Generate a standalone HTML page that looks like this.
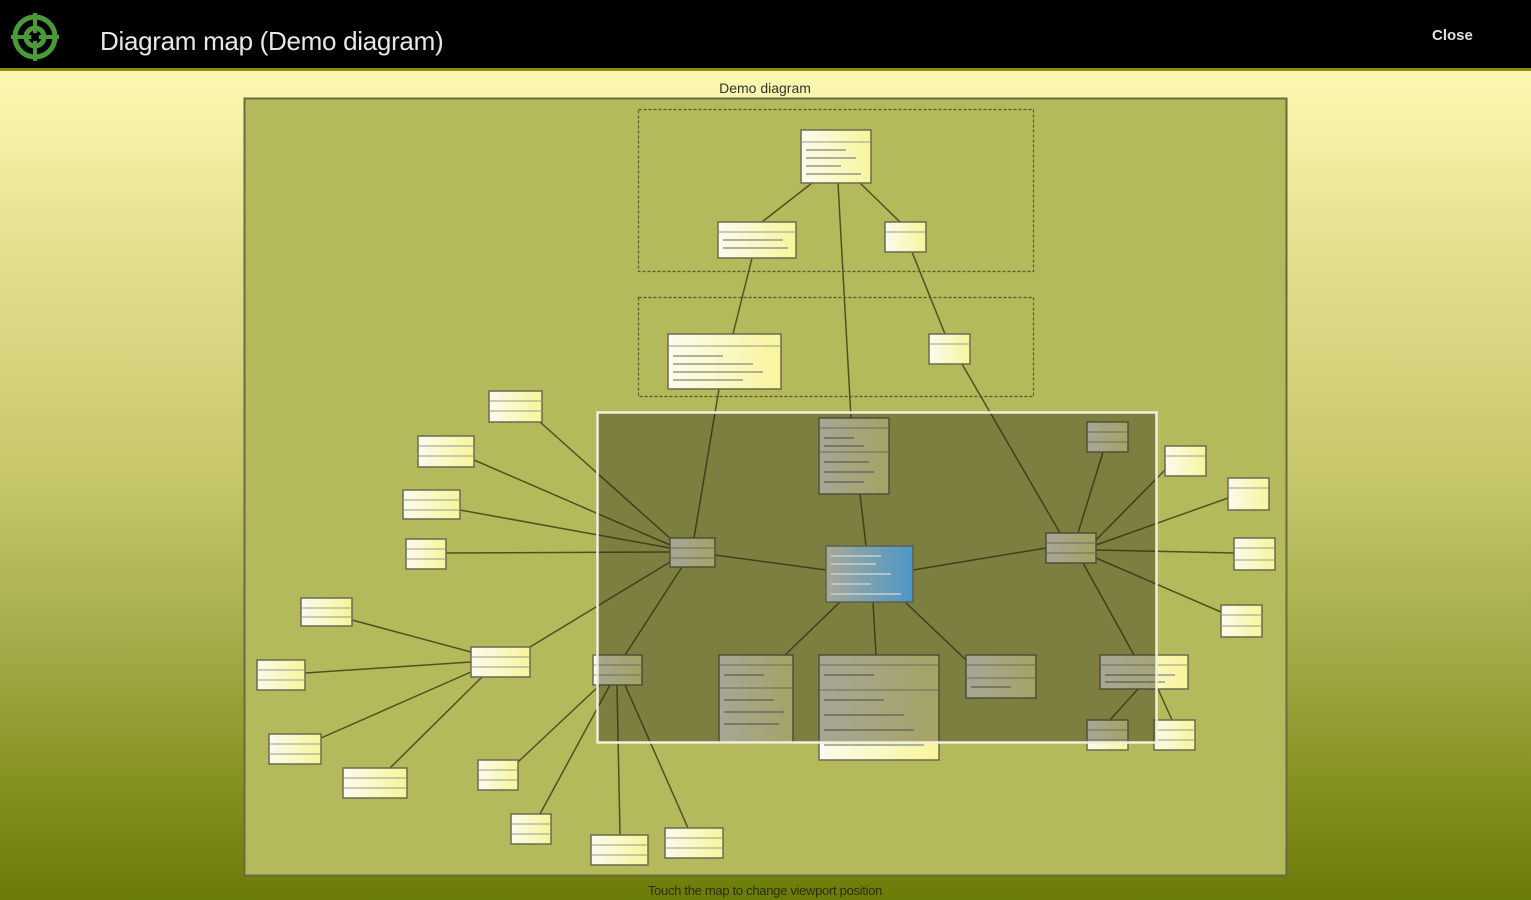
<!DOCTYPE html>
<html><head><meta charset="utf-8"><style>
html,body{margin:0;padding:0;width:1531px;height:900px;overflow:hidden;font-family:"Liberation Sans",sans-serif}
body{background:linear-gradient(#fdf8b0 70px,#e4e08e 250px,#c6c66a 480px,#a3aa48 650px,#869220 780px,#6b7b08 900px)}
.hdr{position:absolute;left:0;top:0;width:1531px;height:68px;background:#000;border-bottom:3px solid #8a9010}
.t{position:absolute;left:100px;top:26px;color:#e8e8e8;font-size:26px;letter-spacing:-0.3px}
.c{position:absolute;left:1432px;top:27px;color:#e0e0e0;font-size:15px;font-weight:bold}
svg{position:absolute;left:0;top:0}
</style></head><body>
<div class="hdr"><div class="t">Diagram map (Demo diagram)</div><div class="c">Close</div></div>
<svg width="56" height="60" style="left:10px;top:10px" viewBox="0 0 56 60">
<circle cx="25" cy="27" r="20" fill="none" stroke="#4a9a3a" stroke-width="5"/>
<circle cx="25" cy="27" r="9" fill="none" stroke="#4a9a3a" stroke-width="5"/>
<path d="M25 3V51M1 27H49" stroke="#4a9a3a" stroke-width="4"/>
<circle cx="25" cy="27" r="4" fill="#000"/>
</svg>
<svg width="1531" height="900" style="top:0">
<defs>
<linearGradient id="ng" x1="0" x2="1"><stop offset="0" stop-color="#fbfbf0"/><stop offset="1" stop-color="#f8f59a"/></linearGradient>
<linearGradient id="bg" x1="0" x2="1"><stop offset="0" stop-color="#a9a898"/><stop offset="1" stop-color="#4a98c8"/></linearGradient>
</defs>
<text x="765" y="93" font-size="14" text-anchor="middle" fill="#333">Demo diagram</text>
<rect x="244.5" y="98.5" width="1042" height="777" fill="#b4b95c" stroke="#6a6a40" stroke-width="2"/>
<g fill="none" stroke="#555a30" stroke-width="1.2" stroke-dasharray="3,2">
<rect x="638.5" y="109.5" width="395" height="162"/>
<rect x="638.5" y="297.5" width="395" height="99"/>
</g>
<g stroke="#4d5220" stroke-width="1.5">
<line x1="812" y1="183" x2="762" y2="222"/><line x1="860" y1="183" x2="900" y2="222"/><line x1="838" y1="183" x2="851" y2="418"/>
<line x1="752" y1="258" x2="733" y2="334"/><line x1="912" y1="252" x2="945" y2="334"/>
<line x1="719" y1="389" x2="694" y2="538"/><line x1="962" y1="364" x2="1060" y2="533"/>
<line x1="540" y1="422" x2="672" y2="540"/><line x1="474" y1="460" x2="670" y2="545"/><line x1="460" y1="510" x2="670" y2="548"/><line x1="446" y1="553" x2="670" y2="552"/>
<line x1="715" y1="555" x2="826" y2="570"/><line x1="670" y1="562" x2="530" y2="647"/><line x1="682" y1="567" x2="625" y2="655"/>
<line x1="352" y1="620" x2="471" y2="652"/><line x1="305" y1="673" x2="471" y2="662"/><line x1="321" y1="738" x2="471" y2="672"/><line x1="390" y1="768" x2="482" y2="677"/>
<line x1="600" y1="685" x2="518" y2="762"/><line x1="610" y1="685" x2="540" y2="814"/><line x1="617" y1="685" x2="620" y2="835"/><line x1="625" y1="685" x2="688" y2="828"/>
<line x1="860" y1="494" x2="866" y2="546"/><line x1="840" y1="602" x2="785" y2="655"/><line x1="873" y1="602" x2="876" y2="655"/><line x1="905" y1="602" x2="966" y2="660"/><line x1="913" y1="570" x2="1046" y2="548"/>
<line x1="1078" y1="533" x2="1103" y2="452"/><line x1="1096" y1="540" x2="1165" y2="470"/><line x1="1096" y1="545" x2="1228" y2="498"/><line x1="1096" y1="550" x2="1234" y2="553"/><line x1="1096" y1="558" x2="1221" y2="612"/><line x1="1083" y1="563" x2="1134" y2="655"/>
<line x1="1138" y1="689" x2="1110" y2="720"/><line x1="1158" y1="689" x2="1172" y2="720"/>
</g>
<g fill="url(#ng)" stroke="#6a6a50" stroke-width="1.5">
<rect x="801" y="130" width="70" height="53"/><rect x="718" y="222" width="78" height="36"/><rect x="885" y="222" width="41" height="30"/>
<rect x="668" y="334" width="113" height="55"/><rect x="929" y="334" width="41" height="30"/>
<rect x="489" y="391" width="53" height="31"/><rect x="418" y="436" width="56" height="31"/><rect x="403" y="490" width="57" height="29"/><rect x="406" y="539" width="40" height="30"/>
<rect x="301" y="598" width="51" height="28"/><rect x="257" y="660" width="48" height="30"/><rect x="269" y="734" width="52" height="30"/><rect x="343" y="768" width="64" height="30"/>
<rect x="471" y="647" width="59" height="30"/><rect x="478" y="760" width="40" height="30"/><rect x="511" y="814" width="40" height="30"/><rect x="591" y="835" width="57" height="30"/><rect x="665" y="828" width="58" height="30"/>
<rect x="593" y="655" width="49" height="30"/><rect x="670" y="538" width="45" height="29"/>
<rect x="819" y="418" width="70" height="76"/><rect x="719" y="655" width="74" height="88"/><rect x="819" y="655" width="120" height="105"/><rect x="966" y="655" width="70" height="43"/>
<rect x="1046" y="533" width="50" height="30"/><rect x="1087" y="422" width="41" height="30"/><rect x="1165" y="446" width="41" height="30"/><rect x="1228" y="478" width="41" height="32"/><rect x="1234" y="538" width="41" height="32"/><rect x="1221" y="605" width="41" height="32"/>
<rect x="1100" y="655" width="88" height="34"/><rect x="1087" y="720" width="41" height="30"/><rect x="1154" y="720" width="41" height="30"/>
</g>
<g stroke="#9a9a80" stroke-width="1">
<path d="M489 401h53M489 411h53M418 446h56M418 456h56M403 500h57M403 510h57M406 549h40M406 559h40M301 608h51M301 617h51M257 670h48M257 680h48M269 744h52M269 754h52M343 778h64M343 788h64M471 657h59M471 667h59M478 770h40M478 780h40M511 824h40M511 834h40M591 845h57M591 855h57M665 838h58M665 848h58M593 665h49M593 675h49M670 548h45M670 558h45M1046 543h50M1046 553h50M1087 432h41M1087 442h41M1165 456h41M1228 488h41M1234 548h41M1234 560h41M1221 615h41M1221 626h41M1087 730h41M1087 740h41M1154 730h41M1154 740h41M885 232h41M929 344h41M801 142h70M718 232h78M668 346h113M819 428h70M819 452h70M719 665h74M719 688h74M819 665h120M819 690h120M966 665h70M966 678h70M1100 665h88"/>
</g>
<g stroke="#b0b098" stroke-width="2">
<path d="M806 150h40M806 158h50M806 166h35M806 174h55M723 240h60M723 248h65M673 356h50M673 364h80M673 372h90M673 380h70M824 438h30M824 446h40M824 462h45M824 472h50M824 482h40M724 675h40M724 700h50M724 712h60M724 724h55M824 675h50M824 700h60M824 715h80M824 730h90M824 745h100M971 687h40M1105 675h70M1105 682h60"/>
</g>
<rect x="597.5" y="412.5" width="559" height="330" fill="rgba(40,40,20,0.4)" stroke="#f0f0d8" stroke-width="2.5"/>
<rect x="826" y="546" width="87" height="56" fill="url(#bg)" stroke="#5a6050" stroke-width="1.5"/>
<g stroke="#c8d0d8" stroke-width="1.5"><path d="M831 556h50M831 564h45M831 574h60M831 584h40M831 594h70"/></g>
<text x="765" y="895" font-size="13" text-anchor="middle" fill="#283000" letter-spacing="-0.3">Touch the map to change viewport position</text>
</svg>
</body></html>
